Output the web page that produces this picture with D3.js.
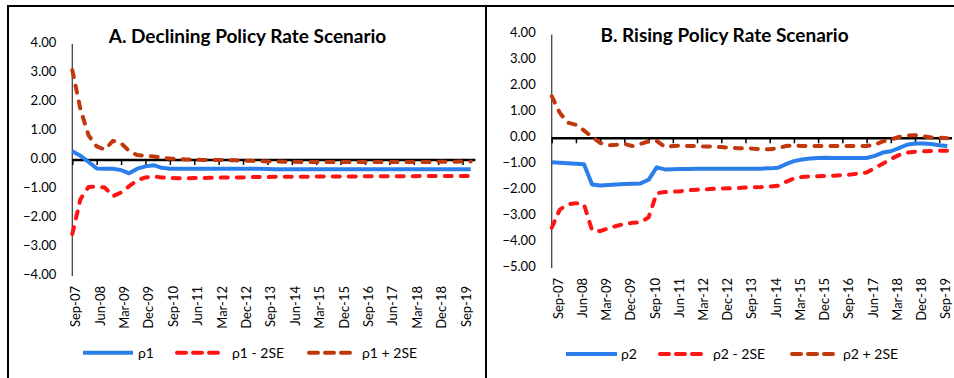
<!DOCTYPE html>
<html><head><meta charset="utf-8">
<script src="https://cdn.jsdelivr.net/npm/d3@7"></script>
<style>body{margin:0;background:#fff}svg{display:block}text{font-family:Lato,'Open Sans','DejaVu Sans',sans-serif;fill:#000}</style>
</head><body><svg id="c" width="954" height="378"></svg>
<script>
// ---- data ----
const quarters = ["Sep-07","Dec-07","Mar-08","Jun-08","Sep-08","Dec-08","Mar-09","Jun-09","Sep-09","Dec-09",
"Mar-10","Jun-10","Sep-10","Dec-10","Mar-11","Jun-11","Sep-11","Dec-11","Mar-12","Jun-12",
"Sep-12","Dec-12","Mar-13","Jun-13","Sep-13","Dec-13","Mar-14","Jun-14","Sep-14","Dec-14",
"Mar-15","Jun-15","Sep-15","Dec-15","Mar-16","Jun-16","Sep-16","Dec-16","Mar-17","Jun-17",
"Sep-17","Dec-17","Mar-18","Jun-18","Sep-18","Dec-18","Mar-19","Jun-19","Sep-19","Dec-19"];
const tickLabels = ["Sep-07","Jun-08","Mar-09","Dec-09","Sep-10","Jun-11","Mar-12","Dec-12","Sep-13",
"Jun-14","Mar-15","Dec-15","Sep-16","Jun-17","Mar-18","Dec-18","Sep-19"];
const yTicksA = [4,3,2,1,0,-1,-2,-3,-4];
const yTicksB = [4,3,2,1,0,-1,-2,-3,-4,-5];
const titleA = "A. Declining Policy Rate Scenario";
const titleB = "B. Rising Policy Rate Scenario";
const namesA = ["ρ1","ρ1 - 2SE","ρ1 + 2SE"];
const namesB = ["ρ2","ρ2 - 2SE","ρ2 + 2SE"];

const rho1 = [0.30,0.15,-0.07,-0.29,-0.30,-0.30,-0.35,-0.46,-0.30,-0.22,-0.18,-0.27,-0.30,-0.30,-0.30,-0.30,-0.30,-0.30,-0.30,-0.30,-0.30,-0.30,-0.30,-0.30,-0.31,-0.32,
-0.32,-0.32,-0.32,-0.32,-0.32,-0.32,-0.32,-0.32,-0.32,-0.32,-0.32,-0.32,-0.32,-0.32,-0.32,-0.32,-0.32,-0.32,-0.32,-0.32,-0.32,-0.32,-0.32,-0.32];
const rho1Lo = [-2.55,-1.35,-0.93,-0.91,-0.95,-1.25,-1.12,-0.90,-0.70,-0.60,-0.57,-0.60,-0.62,-0.63,-0.63,-0.62,-0.62,-0.61,-0.61,-0.60,-0.60,-0.60,-0.59,-0.59,-0.59,-0.58,
-0.58,-0.58,-0.58,-0.58,-0.57,-0.57,-0.57,-0.57,-0.57,-0.57,-0.56,-0.56,-0.56,-0.56,-0.56,-0.56,-0.56,-0.55,-0.55,-0.55,-0.55,-0.55,-0.55,-0.55];
const rho1Hi = [3.10,1.75,0.85,0.47,0.36,0.66,0.58,0.30,0.17,0.15,0.12,0.08,0.05,0.03,0.02,0.01,0.00,0.00,0.00,0.00,-0.01,-0.02,-0.03,-0.04,-0.05,-0.05,
-0.06,-0.06,-0.07,-0.07,-0.07,-0.07,-0.07,-0.07,-0.07,-0.07,-0.07,-0.07,-0.07,-0.07,-0.07,-0.07,-0.07,-0.07,-0.07,-0.06,-0.06,-0.06,-0.05,-0.05];

const rho2 = [-0.92,-0.94,-0.96,-0.98,-1.00,-1.78,-1.82,-1.80,-1.78,-1.76,-1.75,-1.74,-1.60,-1.12,-1.20,-1.19,-1.18,-1.18,-1.17,-1.17,
-1.17,-1.17,-1.17,-1.17,-1.17,-1.17,-1.17,-1.16,-1.14,-1.00,-0.88,-0.82,-0.78,-0.76,-0.75,-0.76,-0.76,-0.76,-0.76,-0.76,
-0.68,-0.55,-0.50,-0.38,-0.25,-0.20,-0.20,-0.22,-0.27,-0.30];
const rho2Lo = [-3.45,-2.75,-2.55,-2.50,-2.55,-3.55,-3.58,-3.47,-3.38,-3.30,-3.26,-3.24,-3.05,-2.12,-2.07,-2.06,-2.04,-2.00,-1.98,-1.97,
-1.95,-1.94,-1.93,-1.92,-1.90,-1.89,-1.88,-1.86,-1.83,-1.68,-1.55,-1.49,-1.47,-1.46,-1.45,-1.44,-1.42,-1.40,-1.36,-1.32,
-1.15,-0.98,-0.80,-0.65,-0.55,-0.52,-0.50,-0.49,-0.48,-0.48];
const rho2Hi = [1.62,0.98,0.60,0.52,0.30,0.05,-0.18,-0.27,-0.25,-0.22,-0.30,-0.22,-0.12,-0.10,-0.33,-0.30,-0.28,-0.30,-0.30,-0.32,
-0.32,-0.34,-0.36,-0.38,-0.38,-0.40,-0.42,-0.42,-0.38,-0.30,-0.28,-0.30,-0.30,-0.30,-0.30,-0.30,-0.30,-0.30,-0.30,-0.30,
-0.25,-0.12,-0.05,0.05,0.10,0.12,0.08,0.03,0.02,0.00];

// ---- drawing ----
const colors = ["#2C7FEA","#FF1414","#C2380E"];
const parse = d3.timeParse("%b-%y");
const mIdx = s => { const d = parse(s); return (d.getFullYear()-2007)*12 + d.getMonth() - 8; };
const svg = d3.select("#c");

// frame
svg.append("path").attr("d","M8,378V6H954M486,6V378").attr("fill","none").attr("stroke","#000").attr("stroke-width",2);

function panel(cfg){
  const g = svg.append("g");
  const x = d3.scaleLinear().domain([0,148]).range([cfg.x0,cfg.x1]);
  const y = d3.scaleLinear().domain([cfg.yMax,cfg.yMin]).range([cfg.yTop,cfg.yBot]);
  g.append("line").attr("x1",cfg.x0).attr("x2",cfg.x0).attr("y1",y(cfg.yMax)).attr("y2",y(cfg.yMin))
    .attr("stroke","#444").attr("stroke-width",1.3);
  g.selectAll(".yl").data(cfg.yTicks).join("text").attr("x",cfg.x0-16).attr("y",d=>y(d)-2)
    .attr("dy","0.35em").attr("text-anchor","end").attr("font-size",13).text(d=>d3.format(".2f")(d));
  const xa = d3.axisBottom(x).tickValues(tickLabels.map(mIdx)).tickSize(5).tickFormat("");
  const ax = g.append("g").attr("transform",`translate(0,${y(0)})`).call(xa);
  ax.select(".domain").attr("stroke","#000").attr("stroke-width",2.5).attr("d",`M${cfg.x0},0H${cfg.x1+2}`);
  ax.selectAll(".tick line").attr("stroke","#000").attr("stroke-width",1.5);
  g.selectAll(".xl").data(tickLabels).join("text")
    .attr("transform",d=>`translate(${x(mIdx(d))+cfg.lblDx},${cfg.lblY}) rotate(-90)`)
    .attr("text-anchor","end").attr("font-size",13).text(d=>d);
  const line = d3.line().x((d,i)=>x(mIdx(quarters[i]))).y(d=>y(d));
  cfg.series.forEach((s,k)=>{
    g.append("path").datum(s).attr("d",line).attr("fill","none").attr("stroke",colors[k])
      .attr("stroke-width",4).attr("stroke-linejoin","round")
      .attr("stroke-linecap",k?"round":"butt").attr("stroke-dasharray",k?"7,9":null);
  });
  g.append("text").attr("x",cfg.titleX).attr("y",cfg.titleY).attr("text-anchor","middle")
    .attr("font-size",19).attr("font-weight","bold").text(cfg.title);
  cfg.legend.forEach((L,k)=>{
    g.append("line").attr("x1",L[0]).attr("x2",L[1]).attr("y1",cfg.legY).attr("y2",cfg.legY)
      .attr("stroke",colors[k]).attr("stroke-width",4)
      .attr("stroke-linecap",k?"round":"butt").attr("stroke-dasharray",k?"9,7":null);
    g.append("text").attr("x",L[2]).attr("y",cfg.legY).attr("dy","0.35em").attr("font-size",14).text(cfg.names[k]);
  });
}

panel({x0:72.3,x1:473.4,yTop:44,yBot:276,yMax:4,yMin:-4,yTicks:yTicksA,lblDx:8,lblY:286,
  series:[rho1,rho1Lo,rho1Hi],title:titleA,titleX:247.5,titleY:43,names:namesA,legY:352.7,
  legend:[[83,133,138],[177,220,232],[309,350,362]]});
panel({x0:551.7,x1:950,yTop:34.5,yBot:268,yMax:4,yMin:-5,yTicks:yTicksB,lblDx:11,lblY:278,
  series:[rho2,rho2Lo,rho2Hi],title:titleB,titleX:724.5,titleY:42,names:namesB,legY:354,
  legend:[[566,617,621],[660,703,713],[792,833,843]]});
</script></body></html>
